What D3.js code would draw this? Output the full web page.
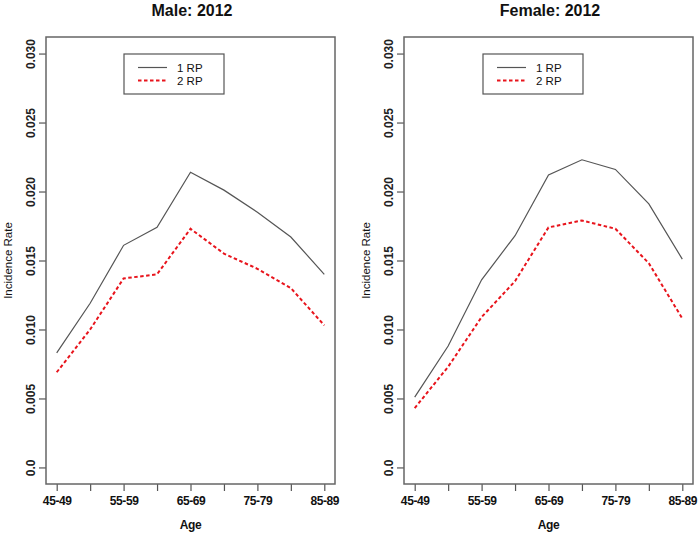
<!DOCTYPE html>
<html>
<head>
<meta charset="utf-8">
<script src="https://cdn.jsdelivr.net/npm/d3@7"></script>
<style>
  body { margin: 0; background: #fff; }
  svg { display: block; font-family: "Liberation Sans", Arial, sans-serif; }
</style>
</head>
<body>
<div id="chart"></div>
<script>
// age groups on the x axis, every other one gets a label
var ageGroups = ['45-49', '50-54', '55-59', '60-64', '65-69', '70-74', '75-79', '80-84', '85-89']
var xTickLabels = ['45-49', '', '55-59', '', '65-69', '', '75-79', '', '85-89']

var yTicks = [0, 0.005, 0.010, 0.015, 0.020, 0.025, 0.030]
var yTickLabels = ['0.0', '0.005', '0.010', '0.015', '0.020', '0.025', '0.030']

var seriesNames = ['1 RP', '2 RP']

// incidence rates
var male1RP = [0.0083, 0.0119, 0.0161, 0.0174, 0.0214, 0.0201, 0.0185, 0.0167, 0.0140]
var male2RP = [0.0069, 0.0100, 0.0137, 0.0140, 0.0173, 0.0155, 0.0144, 0.0130, 0.0103]
var female1RP = [0.0051, 0.0088, 0.0136, 0.0168, 0.0212, 0.0223, 0.0216, 0.0191, 0.0151]
var female2RP = [0.0043, 0.0073, 0.0109, 0.0135, 0.0174, 0.0179, 0.0173, 0.0148, 0.0108]

var panels = [
  { title: 'Male: 2012', series: [male1RP, male2RP], left: 46, right: 335, titleX: 192, legendX: 124 },
  { title: 'Female: 2012', series: [female1RP, female2RP], left: 404, right: 693, titleX: 550, legendX: 483 }
]

var WIDTH = 700
var HEIGHT = 534
var PLOT_TOP = 37
var PLOT_BOTTOM = 484

var lineStyles = [
  { stroke: '#555', width: 1.2, dash: null },
  { stroke: '#e8141c', width: 2, dash: '3.5,2.5' }
]

var svg = d3.select('#chart')
  .append('svg')
  .attr('width', WIDTH)
  .attr('height', HEIGHT)

// R style 4% padding on both axes
var y = d3.scaleLinear()
  .domain([-0.0012, 0.0312])
  .range([PLOT_BOTTOM, PLOT_TOP])

panels.forEach(function (p) {
  var x = d3.scaleLinear()
    .domain([0.68, ageGroups.length + 0.32])
    .range([p.left, p.right])

  var g = svg.append('g')

  g.append('text')
    .attr('x', p.titleX)
    .attr('y', 16)
    .attr('text-anchor', 'middle')
    .attr('font-size', 16)
    .attr('font-weight', 'bold')
    .attr('fill', '#111')
    .text(p.title)

  // x axis
  var xAxis = d3.axisBottom(x)
    .tickValues(d3.range(1, ageGroups.length + 1))
    .tickSize(7)
    .tickPadding(5)
    .tickFormat(function (d) { return xTickLabels[d - 1] })

  var xg = g.append('g')
    .attr('transform', 'translate(0,' + PLOT_BOTTOM + ')')
    .call(xAxis)
  xg.select('.domain').remove()
  xg.selectAll('.tick line').attr('stroke', '#555').attr('stroke-width', 1.2)
  xg.selectAll('.tick text')
    .attr('font-size', 12)
    .attr('font-weight', 'bold')
    .attr('font-family', '"Liberation Sans", Arial, sans-serif')
    .attr('fill', '#111')
    .attr('letter-spacing', -0.4)

  // y axis
  var yAxis = d3.axisLeft(y)
    .tickValues(yTicks)
    .tickSize(7)
    .tickFormat(function (d, i) { return yTickLabels[i] })

  var yg = g.append('g')
    .attr('transform', 'translate(' + p.left + ',0)')
    .call(yAxis)
  yg.select('.domain').remove()
  yg.selectAll('.tick line').attr('stroke', '#555').attr('stroke-width', 1.2)
  yg.selectAll('.tick text')
    .attr('x', 0)
    .attr('y', 0)
    .attr('dy', null)
    .attr('transform', 'translate(-11,0) rotate(-90)')
    .attr('text-anchor', 'middle')
    .attr('font-size', 12)
    .attr('font-weight', 'bold')
    .attr('font-family', '"Liberation Sans", Arial, sans-serif')
    .attr('fill', '#222')

  g.append('text')
    .attr('transform', 'translate(' + (p.left - 34) + ',' + ((PLOT_TOP + PLOT_BOTTOM) / 2) + ') rotate(-90)')
    .attr('text-anchor', 'middle')
    .attr('font-size', 11.5)
    .attr('fill', '#111')
    .text('Incidence Rate')

  g.append('text')
    .attr('x', (p.left + p.right) / 2)
    .attr('y', 529)
    .attr('text-anchor', 'middle')
    .attr('font-size', 12)
    .attr('font-weight', 'bold')
    .attr('fill', '#111')
    .attr('letter-spacing', -0.4)
    .text('Age')

  // series lines
  var line = d3.line()
    .x(function (d, i) { return x(i + 1) })
    .y(function (d) { return y(d) })

  p.series.forEach(function (values, s) {
    g.append('path')
      .datum(values)
      .attr('d', line)
      .attr('fill', 'none')
      .attr('stroke', lineStyles[s].stroke)
      .attr('stroke-width', lineStyles[s].width)
      .attr('stroke-dasharray', lineStyles[s].dash)
  })

  // plot box
  g.append('rect')
    .attr('x', p.left)
    .attr('y', PLOT_TOP)
    .attr('width', p.right - p.left)
    .attr('height', PLOT_BOTTOM - PLOT_TOP)
    .attr('fill', 'none')
    .attr('stroke', '#666')
    .attr('stroke-width', 1.5)

  // legend
  var lg = g.append('g')
    .attr('transform', 'translate(' + p.legendX + ',54)')

  lg.append('rect')
    .attr('width', 100)
    .attr('height', 40)
    .attr('fill', '#fff')
    .attr('stroke', '#555')
    .attr('stroke-width', 1.2)

  seriesNames.forEach(function (name, s) {
    var ly = 13.5 + s * 13
    lg.append('line')
      .attr('x1', 14)
      .attr('x2', 43)
      .attr('y1', ly)
      .attr('y2', ly)
      .attr('stroke', lineStyles[s].stroke)
      .attr('stroke-width', lineStyles[s].width)
      .attr('stroke-dasharray', lineStyles[s].dash)
    lg.append('text')
      .attr('x', 53)
      .attr('y', ly + 4)
      .attr('font-size', 11.5)
      .attr('fill', '#111')
      .text(name)
  })
})
</script>
</body>
</html>
